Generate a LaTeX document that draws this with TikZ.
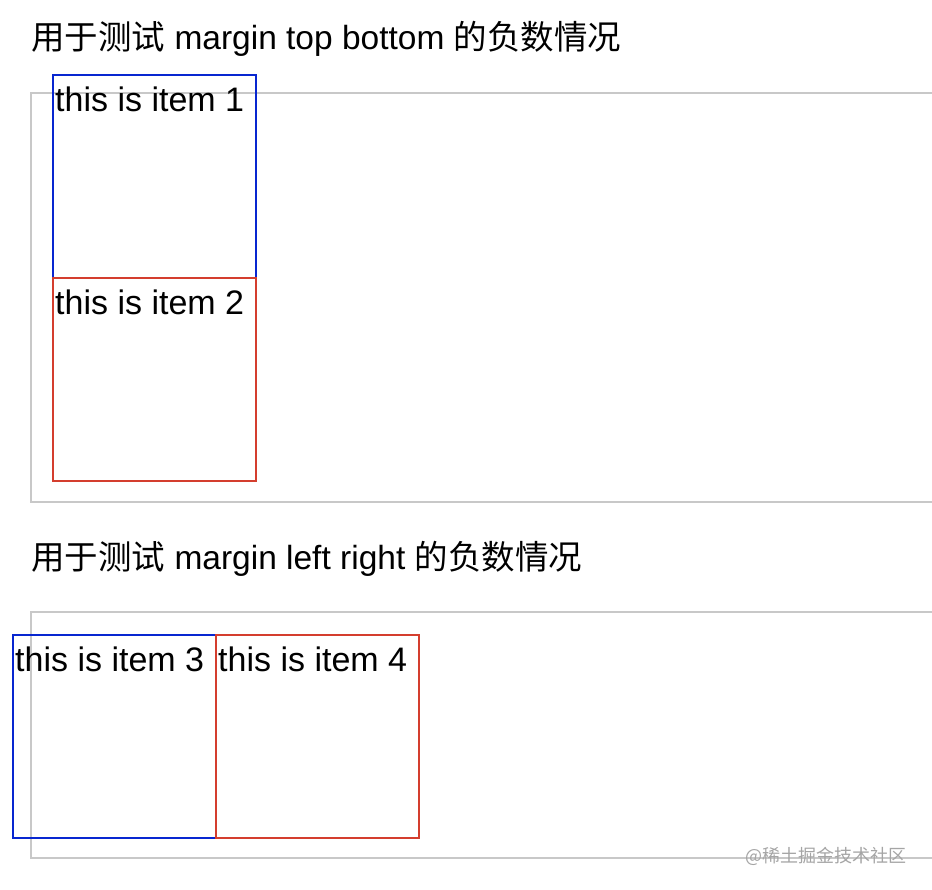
\documentclass[tikz,border=0pt]{standalone}
\usepackage{fontspec}
\setmainfont{Liberation Sans}
\newfontfamily\cjk{Noto Sans CJK SC}
\usetikzlibrary{positioning}

\definecolor{boxblue}{RGB}{8,38,208}
\definecolor{boxred}{RGB}{212,62,46}
\definecolor{wrapgray}{RGB}{200,200,200}
\definecolor{stampgray}{RGB}{165,165,165}

\tikzset{
  wrapper/.style={draw=wrapgray, line width=2pt},
  itembox/.style={draw=#1, line width=2.5pt, minimum width=203pt,
    minimum height=203pt, inner sep=0pt, outer sep=0pt},
  itemtext/.style={anchor=north west, inner sep=0pt, xshift=2pt, yshift=-12pt,
    font=\fontsize{34}{40}\selectfont},
  heading/.style={anchor=base west, inner sep=0pt, font=\fontsize{33.5}{40}\selectfont},
  stamp/.style={anchor=east, inner sep=0pt, text=stampgray, font=\cjk\fontsize{18}{22}\selectfont}
}

\begin{document}
\begin{tikzpicture}[x=1pt,y=-1pt]
    \path[use as bounding box, clip] (0,0) rectangle (932,890);
%   \draw [very thin,gray] (0,0) grid [step=50] (932,890);

    % margin top bottom
    \node[heading] (head1) at (31,50) {{\cjk 用于测试} margin top bottom {\cjk 的负数情况}};
    \draw[wrapper] (31,93) rectangle (950,502);
    \node[itembox=boxblue, anchor=north west,
          label={[itemtext, name=text1]north west:this is item 1}] (item1) at (53,75) {};
    \node[itembox=boxred, below=0pt of item1,
          label={[itemtext, name=text2]north west:this is item 2}] (item2) {};

    % margin left right
    \node[heading] (head2) at (31,569) {{\cjk 用于测试} margin left right {\cjk 的负数情况}};
    \draw[wrapper] (31,612) rectangle (950,858);
    \node[itembox=boxblue, anchor=north west,
          label={[itemtext, name=text3]north west:this is item 3}] (item3) at (13,635) {};
    \node[itembox=boxred, right=0pt of item3,
          label={[itemtext, name=text4]north west:this is item 4}] (item4) {};

    \node[stamp] (stamp) at (907,856) {@稀土掘金技术社区};
\end{tikzpicture}
\end{document}
